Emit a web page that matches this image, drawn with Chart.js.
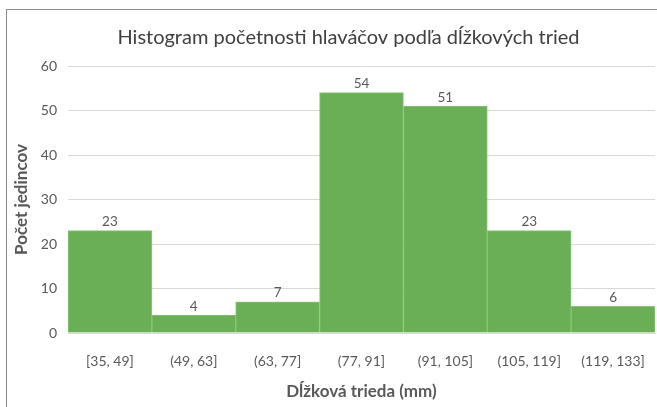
<!DOCTYPE html>
<html>
<head>
<meta charset="utf-8">
<script src="https://cdn.jsdelivr.net/npm/chart.js@4"></script>
<style>
    html, body { margin: 0; padding: 0; background: #fff; }
    #wrap { position: relative; width: 657px; height: 407px; }
</style>
</head>
<body>
<div id="wrap"><canvas id="histChart" width="657" height="407"></canvas></div>
<script>
// Data
const classes = ['[35, 49]', '(49, 63]', '(63, 77]', '(77, 91]', '(91, 105]', '(105, 119]', '(119, 133]'];
const counts = [23, 4, 7, 54, 51, 23, 6];
const yTicks = [0, 10, 20, 30, 40, 50, 60];

const gray = '#595959';

// Value labels above bars
const barLabels = {
    id: 'barLabels',
    afterDatasetsDraw(chart) {
        const ctx = chart.ctx;
        const meta = chart.getDatasetMeta(0);
        ctx.save();
        ctx.font = '13.5px Lato';
        ctx.fillStyle = gray;
        ctx.textAlign = 'center';
        ctx.textBaseline = 'bottom';
        meta.data.forEach((bar, i) => {
            ctx.fillText(String(counts[i]), bar.x, bar.y - 2);
        });
        ctx.restore();
    }
};

// Outer chart frame + nudge the title a bit to the right
const frame = {
    id: 'frame',
    afterLayout(chart) {
        if (chart.titleBlock) chart.titleBlock.left += 32;
    },
    afterDraw(chart) {
        const ctx = chart.ctx;
        ctx.save();
        ctx.strokeStyle = '#8c8c8c';
        ctx.lineWidth = 1;
        ctx.strokeRect(6.5, 9.5, 700, 450);
        ctx.restore();
    }
};

const ctx = document.getElementById('histChart').getContext('2d');
new Chart(ctx, {
    type: 'bar',
    data: {
        labels: classes,
        datasets: [{
            data: counts,
            backgroundColor: '#6aaf55',
            borderColor: '#8cc57a',
            borderWidth: 1,
            categoryPercentage: 1,
            barPercentage: 1
        }]
    },
    options: {
        responsive: false,
        animation: false,
        devicePixelRatio: 1,
        layout: { padding: { left: 10, right: 2, top: 20, bottom: 5 } },
        plugins: {
            legend: { display: false },
            tooltip: { enabled: false },
            title: {
                display: true,
                text: 'Histogram početnosti hlaváčov podľa dĺžkových tried',
                color: '#404040',
                font: { family: 'Lato', size: 20, weight: 'normal' },
                padding: { top: 6, bottom: 16 }
            }
        },
        scales: {
            x: {
                grid: { display: false },
                border: { display: true, color: '#d9d9d9' },
                ticks: {
                    color: gray,
                    font: { family: 'Lato', size: 14 },
                    padding: 12,
                    maxRotation: 0
                },
                title: {
                    display: true,
                    text: 'Dĺžková trieda (mm)',
                    color: gray,
                    font: { family: 'Lato', size: 17, weight: 'bold' },
                    padding: { top: 0, bottom: 0 }
                },
                afterFit(scale) { scale.height = 69; }
            },
            y: {
                min: yTicks[0],
                max: yTicks[yTicks.length - 1],
                afterBuildTicks(scale) {
                    scale.ticks = yTicks.map(v => ({ value: v }));
                },
                grid: { color: '#d9d9d9', drawTicks: false },
                border: { display: false },
                ticks: {
                    color: gray,
                    font: { family: 'Lato', size: 14 },
                    padding: 11
                },
                title: {
                    display: true,
                    text: 'Počet jedincov',
                    color: gray,
                    font: { family: 'Lato', size: 17, weight: 'bold' },
                    padding: { top: 1, bottom: 0 }
                },
                afterFit(scale) { scale.width = 58; }
            }
        }
    },
    plugins: [barLabels, frame]
});
</script>
</body>
</html>
